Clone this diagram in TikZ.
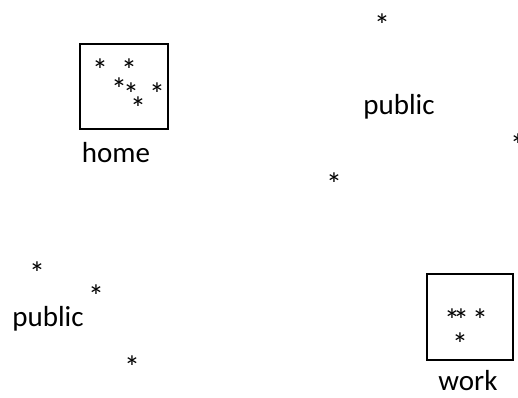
\documentclass[tikz,border=0pt]{standalone}
\usepackage{fontspec}
\setmainfont{Carlito}
\usepackage{tikz}

\begin{document}
\begin{tikzpicture}[x=1pt, y=-1pt,
    every node/.style={font=\fontsize{29}{34}\selectfont},
    spot/.style={inner sep=0pt, anchor=base, yshift=-19pt, font=\fontsize{32}{36}\selectfont},
    place/.style={inner sep=0pt, anchor=base},
    zone/.style={draw, line width=1.6pt, inner sep=0pt}]
    \useasboundingbox (0,0) rectangle (518,397);

    % Boxes
    \node[zone, minimum width=88pt, minimum height=85pt] (homebox) at (124,86.5) {};
    \node[zone, minimum width=86pt, minimum height=86pt] (workbox) at (470,317) {};

    % Points at home
    \node[spot] (h1) at (100,62) {*};
    \node[spot] (h2) at (129,62) {*};
    \node[spot] (h3) at (119,81) {*};
    \node[spot] (h4) at (131,86) {*};
    \node[spot] (h5) at (157,86) {*};
    \node[spot] (h6) at (138,100) {*};

    % Points at work
    \node[spot] (w1) at (452,312) {*};
    \node[spot] (w2) at (461,312) {*};
    \node[spot] (w3) at (480,312) {*};
    \node[spot] (w4) at (460,336) {*};

    % Points in public
    \node[spot] (p1) at (382,17) {*};
    \node[spot] (p2) at (518,137) {*};
    \node[spot] (p3) at (334,176) {*};
    \node[spot] (p4) at (37,265) {*};
    \node[spot] (p5) at (96,288) {*};
    \node[spot] (p6) at (132,359) {*};

    % Labels
    \node[place] (homelabel) at (116,162) {home};
    \node[place] (worklabel) at (468,390) {work};
    \node[place] (publicne) at (399,114) {public};
    \node[place] (publicsw) at (48,326) {public};

\end{tikzpicture}
\end{document}
